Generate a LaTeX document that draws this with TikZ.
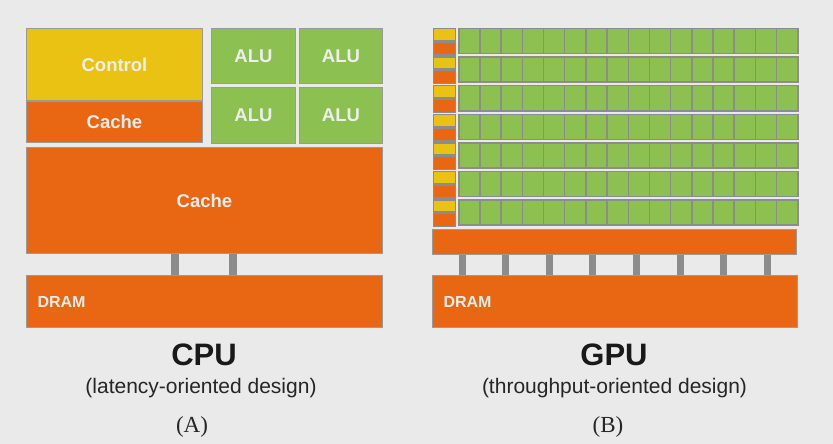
\documentclass[tikz,border=0pt]{standalone}
\usepackage{fontspec}
\setmainfont{Liberation Serif}
\setsansfont{Liberation Sans}
\usetikzlibrary{positioning}
\definecolor{bg}{HTML}{EAEAEA}
\definecolor{ctrl}{HTML}{E9C213}
\definecolor{cach}{HTML}{E96612}
\definecolor{alu}{HTML}{8CC152}
\definecolor{edge}{HTML}{9A9A9A}
\definecolor{busc}{HTML}{8C8C8C}
\definecolor{txt}{HTML}{EEEEEE}
\tikzset{
  blk/.style={draw=edge,line width=1pt,inner sep=0pt,anchor=north west,text=txt,
    font=\sffamily\bfseries\fontsize{18.5}{18.5}\selectfont},
  ctrlblk/.style={blk,fill=ctrl},
  cacheblk/.style={blk,fill=cach},
  alublk/.style={blk,fill=alu},
  cell/.style={draw=busc,line width=1.5pt},
  bus/.style={draw=busc,line width=7.5pt},
}
\begin{document}
\begin{tikzpicture}[x=1pt,y=-1pt,
  title/.style={anchor=base,text=black!90,font=\sffamily\bfseries\fontsize{31}{31}\selectfont},
  sub/.style={anchor=base,text=black!85,font=\sffamily\fontsize{21}{21}\selectfont},
  tag/.style={anchor=base,text=black!85,font=\fontsize{23}{23}\selectfont}]
\fill[bg] (0,0) rectangle (833,444);
% CPU
\node[ctrlblk,minimum width=176pt,minimum height=72pt] (ctrl) at (26,28) {Control};
\node[cacheblk,minimum width=176pt,minimum height=41pt] (l1) at (ctrl.south west) {Cache};
\node[alublk,minimum width=84pt,minimum height=55pt] (alu1) at (211,28) {ALU};
\node[alublk,minimum width=83pt,minimum height=55pt] (alu2) at (299,28) {ALU};
\node[alublk,minimum width=84pt,minimum height=56pt] (alu3) at (211,87) {ALU};
\node[alublk,minimum width=83pt,minimum height=56pt] (alu4) at (299,87) {ALU};
\node[cacheblk,minimum width=356pt,minimum height=106pt] (l2) at (26,147) {Cache};
\node[cacheblk,minimum width=356pt,minimum height=52pt,text width=334pt,align=left,
  font=\sffamily\bfseries\fontsize{16}{16}\selectfont] (dram) at (26,275) {DRAM};
\foreach \s in {149,207}
  \draw[bus] ([xshift=\s pt]l2.south west) -- ([xshift=\s pt]dram.north west);
% GPU
\foreach \i in {0,...,6}{
  \node[ctrlblk,cell,minimum width=22pt,minimum height=12pt] (gctrl\i) at (432.5,28+28.5*\i) {};
  \node[cacheblk,cell,minimum width=22pt,minimum height=13pt] (gl1\i) at (gctrl\i.south west) {};
  \foreach \j in {0,...,15}
    \node[alublk,cell,minimum width=21.19pt,minimum height=25pt] (core\i-\j) at (458+21.19*\j,28+28.5*\i) {};
}
\node[cacheblk,minimum width=364pt,minimum height=25pt] (gl2) at (432,229) {};
\node[cacheblk,minimum width=365pt,minimum height=52pt,text width=343pt,align=left,
  font=\sffamily\bfseries\fontsize{16}{16}\selectfont] (gdram) at (432,275) {DRAM};
\foreach \k in {0,...,7}
  \draw[bus,line width=7pt] ([xshift={(30+43.6*\k)*1pt}]gl2.south west) -- ([xshift={(30+43.6*\k)*1pt}]gdram.north west);
% labels
\node[title] (cpu) at (204,365) {CPU};
\node[sub] (cpudesign) at (201,393.5) {(latency-oriented design)};
\node[tag] (cputag) at (192,432) {(A)};
\node[title] (gpu) at (614,365) {GPU};
\node[sub] (gpudesign) at (614.5,393.5) {(throughput-oriented design)};
\node[tag] (gputag) at (608,432) {(B)};
\end{tikzpicture}
\end{document}
